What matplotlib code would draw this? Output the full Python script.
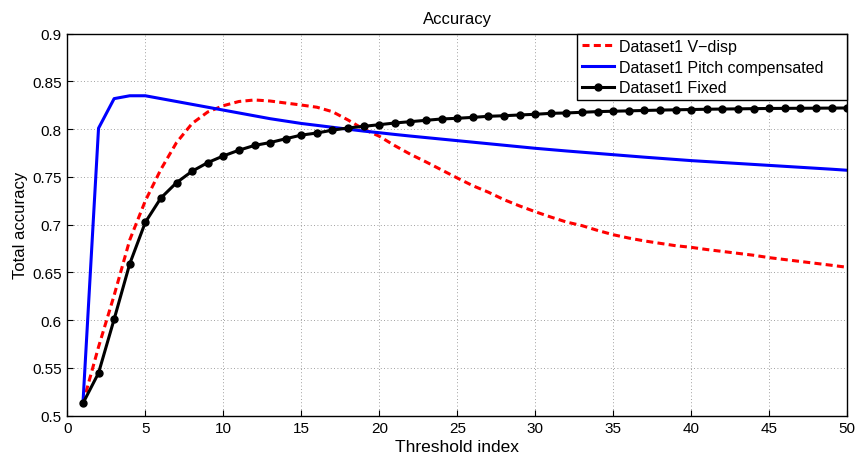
import matplotlib
matplotlib.use("Agg")
import matplotlib.pyplot as plt
import numpy as np

plt.rcParams['font.family'] = ['Liberation Sans', 'DejaVu Sans']

thresholds = np.arange(1, 51)

vdisp = [0.513, 0.572, 0.626, 0.684, 0.725, 0.758, 0.786, 0.806, 0.818, 0.8246,
         0.829, 0.8306, 0.8295, 0.8274, 0.8253, 0.823, 0.8183, 0.8096, 0.800, 0.7926,
         0.7827, 0.7737, 0.7657, 0.7573, 0.7489, 0.7408, 0.734, 0.7262, 0.7196, 0.7136,
         0.708, 0.7028, 0.699, 0.694, 0.6895, 0.686, 0.683, 0.6805, 0.678, 0.6763,
         0.674, 0.672, 0.670, 0.668, 0.6655, 0.6635, 0.6615, 0.6595, 0.6575, 0.6554]

pitch = [0.513, 0.801, 0.832, 0.835, 0.835, 0.832, 0.829, 0.826, 0.823, 0.820,
         0.817, 0.814, 0.811, 0.8085, 0.806, 0.804, 0.802, 0.800, 0.798, 0.7963,
         0.7945, 0.7928, 0.7912, 0.7896, 0.788, 0.7864, 0.7848, 0.7832, 0.7816, 0.780,
         0.7786, 0.7772, 0.7759, 0.7746, 0.7733, 0.772, 0.7707, 0.7695, 0.7683, 0.7671,
         0.7661, 0.7651, 0.7641, 0.7631, 0.7621, 0.7611, 0.7601, 0.7591, 0.7581, 0.757]

fixed = [0.513, 0.5447, 0.601, 0.659, 0.7025, 0.728, 0.744, 0.756, 0.765, 0.772,
         0.778, 0.783, 0.786, 0.790, 0.7938, 0.796, 0.799, 0.8013, 0.803, 0.8047,
         0.8065, 0.8079, 0.8093, 0.8107, 0.8114, 0.8124, 0.8135, 0.8141, 0.8149, 0.8156,
         0.8166, 0.817, 0.8177, 0.8184, 0.8188, 0.8192, 0.8196, 0.820, 0.8203, 0.8206,
         0.8209, 0.8211, 0.8213, 0.8215, 0.8217, 0.8218, 0.8219, 0.822, 0.8221, 0.8222]

xticks = [0, 5, 10, 15, 20, 25, 30, 35, 40, 45, 50]
yticks = [0.5, 0.55, 0.6, 0.65, 0.7, 0.75, 0.8, 0.85, 0.9]
ylabels = ['0.5', '0.55', '0.6', '0.65', '0.7', '0.75', '0.8', '0.85', '0.9']

fig = plt.figure(figsize=(8.6, 4.6), dpi=100)
ax = fig.add_axes([0.0783, 0.0941, 0.9068, 0.8305])

ax.plot(thresholds, vdisp, color='red', lw=2.2, linestyle=(0, (2.3, 1.4)),
        label='Dataset1 V\u2212disp')
ax.plot(thresholds, pitch, color='blue', lw=2.2, label='Dataset1 Pitch compensated')
ax.plot(thresholds, fixed, color='black', lw=2.2, marker='o', markersize=5,
        label='Dataset1 Fixed')

ax.set_xlim(0, 50)
ax.set_ylim(0.5, 0.9)
ax.set_xticks(xticks)
ax.set_yticks(yticks)
ax.set_yticklabels(ylabels)
ax.tick_params(direction='in', labelsize=11, length=4, pad=4)
ax.grid(True, linestyle=(0, (1, 3)), color='gray', lw=0.6)
for s in ax.spines.values():
    s.set_linewidth(1)

ax.set_title('Accuracy', fontsize=12, pad=8)
ax.set_xlabel('Threshold index', fontsize=12.5, labelpad=3)
ax.set_ylabel('Total accuracy', fontsize=12, labelpad=3)

# legend box stretched like MATLAB's, flush with the top-right corner
leg = ax.legend(loc='upper left', bbox_to_anchor=(0.6537, 0, 0.3463, 1.0),
                mode='expand', borderaxespad=0, fancybox=False,
                framealpha=1, edgecolor='black', fontsize=11.5,
                handlelength=2.0, handletextpad=0.3, labelspacing=0.36,
                borderpad=0.32)
leg.get_frame().set_linewidth(1)

fig.savefig('out.png', dpi=100)
